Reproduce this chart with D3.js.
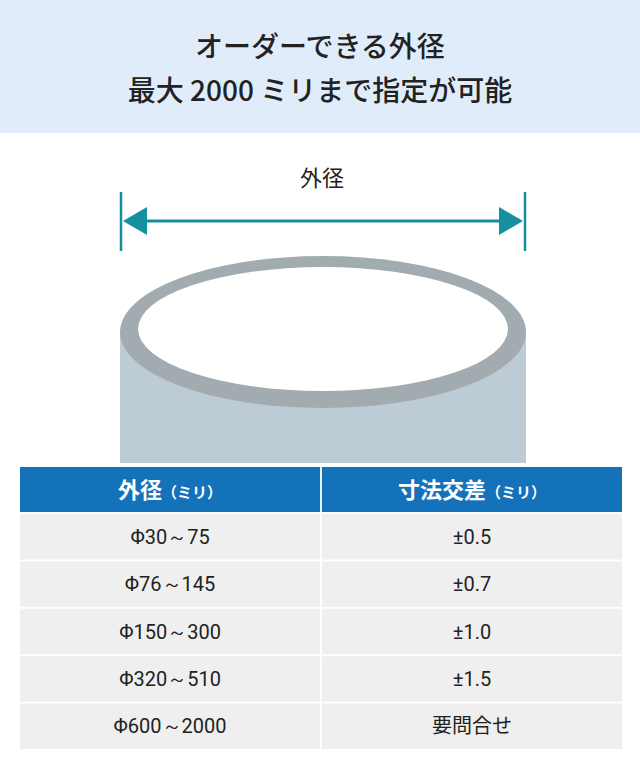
<!DOCTYPE html>
<html><head><meta charset="utf-8">
<script src="https://cdn.jsdelivr.net/npm/d3@7"></script>
<style>body{margin:0;background:#fff}svg{display:block;font-family:"Noto Sans CJK JP","Noto Sans",sans-serif}</style>
</head><body><svg width="640" height="773"></svg>
<script>
const titleLines = ["オーダーできる外径", "最大 2000 ミリまで指定が可能"];
const headers = [["外径", "（ミリ）"], ["寸法交差", "（ミリ）"]];
const diameters = ["Φ30～75", "Φ76～145", "Φ150～300", "Φ320～510", "Φ600～2000"];
const tolerances = ["±0.5", "±0.7", "±1.0", "±1.5", "要問合せ"];

const svg = d3.select("svg");
const teal = "#168f9e";

// header band
svg.append("rect").attr("width", 640).attr("height", 133).attr("fill", "#e1ecfb");
svg.selectAll("text.title").data(titleLines).join("text")
    .attr("x", 320).attr("y", (d, i) => 57 + i * 44)
    .attr("text-anchor", "middle").attr("font-size", 28).attr("font-weight", 500)
    .attr("fill", "#222").text(d => d);

// dimension arrow
svg.append("text").attr("x", 322).attr("y", 186).attr("text-anchor", "middle")
    .attr("font-size", 22).attr("fill", "#222").text("外径");
[121, 525].forEach(x => svg.append("line").attr("x1", x).attr("x2", x)
    .attr("y1", 192).attr("y2", 251).attr("stroke", teal).attr("stroke-width", 2.5));
svg.append("line").attr("x1", 140).attr("x2", 506).attr("y1", 221).attr("y2", 221)
    .attr("stroke", teal).attr("stroke-width", 3);
svg.append("path").attr("d", "M123,221 L147,207 L147,235 Z").attr("fill", teal);
svg.append("path").attr("d", "M523,221 L499,207 L499,235 Z").attr("fill", teal);

// cylinder
svg.append("rect").attr("x", 120).attr("y", 332).attr("width", 406).attr("height", 131).attr("fill", "#bccbd4");
svg.append("ellipse").attr("cx", 323).attr("cy", 332).attr("rx", 203).attr("ry", 76).attr("fill", "#a2abaf");
svg.append("ellipse").attr("cx", 323).attr("cy", 329).attr("rx", 185).attr("ry", 62).attr("fill", "#fff");

// table
const x = d3.scaleBand().domain([0, 1]).range([20, 622]).paddingInner(0.006);
const rowH = 47, tableTop = 467, headH = 45;
const y = d3.scaleBand().domain(d3.range(diameters.length))
    .range([tableTop + headH, tableTop + headH + rowH * diameters.length]).paddingInner(0.04);

headers.forEach((h, i) => {
    svg.append("rect").attr("x", x(i)).attr("y", tableTop).attr("width", x.bandwidth()).attr("height", headH).attr("fill", "#1472bb");
    const t = svg.append("text").attr("x", x(i) + x.bandwidth() / 2).attr("y", tableTop + 31)
        .attr("text-anchor", "middle").attr("fill", "#fff");
    t.append("tspan").attr("font-size", 22).attr("font-weight", 700).text(h[0]);
    t.append("tspan").attr("font-size", 15).attr("font-weight", 700).text(h[1]);
});

const rows = diameters.map((d, i) => [d, tolerances[i]]);
rows.forEach((r, ri) => {
    r.forEach((v, ci) => {
        svg.append("rect").attr("x", x(ci)).attr("y", y(ri) + 2).attr("width", x.bandwidth()).attr("height", y.bandwidth())
            .attr("fill", "#efefef");
        svg.append("text").attr("x", x(ci) + x.bandwidth() / 2).attr("y", y(ri) + 2 + y.bandwidth() / 2 + 7)
            .attr("text-anchor", "middle").attr("font-size", 20).attr("fill", "#222")
            .attr("font-family", ci === 1 && ri === 4 ? null : "Roboto, sans-serif").text(v);
    });
});
</script></body></html>
